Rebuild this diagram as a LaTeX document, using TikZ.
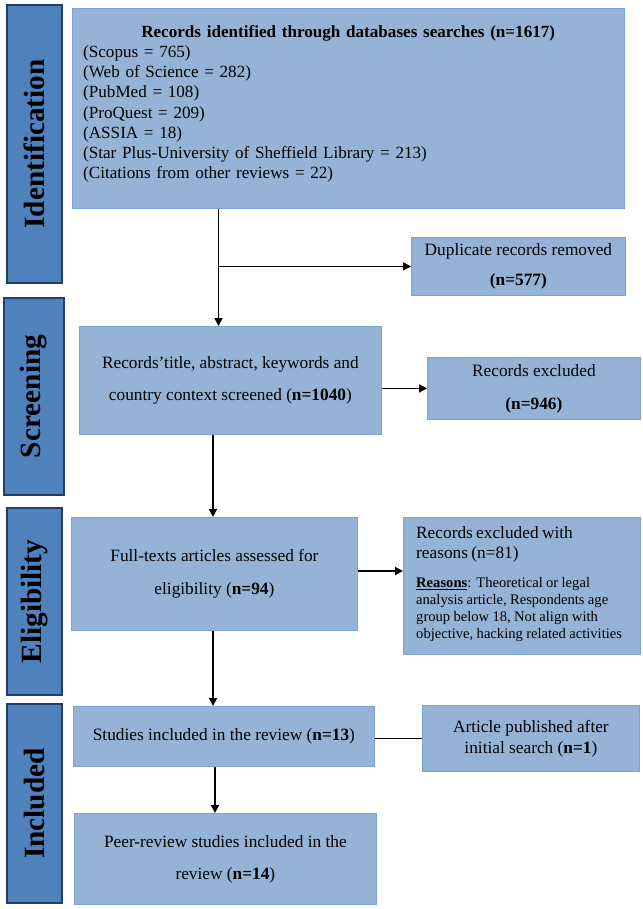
\documentclass[tikz,border=0pt]{standalone}
\usepackage{fontspec}
\setmainfont{Liberation Serif}
\usetikzlibrary{arrows.meta,calc}
\definecolor{boxfill}{HTML}{95B3D7}
\definecolor{boxline}{HTML}{7EA3D0}
\definecolor{sidefill}{HTML}{4F81BD}
\definecolor{sideline}{HTML}{203F66}
\begin{document}
\begin{tikzpicture}[x=1pt,y=-1pt,
  box/.style={draw=boxline, fill=boxfill, line width=0.8pt, anchor=north west, inner sep=0pt, align=center},
  side/.style={draw=sideline, fill=sidefill, line width=2.4pt, rotate=90, inner sep=0pt,
     font=\fontsize{29.3}{30}\selectfont\bfseries},
  txt/.style={inner sep=0pt, align=left, anchor=north west},
  arrow/.style={line width=1.8pt, -{Triangle[length=8pt,width=8pt]}},
  link/.style={line width=1.8pt}]
\useasboundingbox (0,0) rectangle (642,909);

% phase labels
\node[side, minimum width=278pt, minimum height=55pt] (sid) at (34.5,144) {Identification};
\node[side, minimum width=197pt, minimum height=60pt] (sscr) at (34,396.5) {Screening};
\node[side, minimum width=187pt, minimum height=55pt] (selig) at (34.5,601.5) {Eligibility};
\node[side, minimum width=199pt, minimum height=55pt] (sincl) at (34.5,803.5) {Included};

% boxes
\node[box, minimum width=552pt, minimum height=200pt] (box1) at (72,8) {};
\node[txt, text width=530pt, font=\fontsize{17.1}{20.2}\selectfont] (box1t) at (83,25) {%
\makebox[\linewidth]{\textbf{Records identified through databases searches (n=1617)}}\\
(Scopus = 765)\\
(Web of Science = 282)\\
(PubMed = 108)\\
(ProQuest = 209)\\
(ASSIA = 18)\\
(Star Plus-University of Sheffield Library = 213)\\
(Citations from other reviews = 22)};

\node[box, minimum width=214pt, minimum height=58pt, font=\fontsize{17.3}{30}\selectfont] (dup) at (411,237)
  {Duplicate records removed\\\textbf{(n=577)}};

\node[box, minimum width=302pt, minimum height=108pt, font=\fontsize{17.3}{32}\selectfont] (scr) at (79,326)
  {Records’title, abstract, keywords and\\country context screened (\textbf{n=1040})};

\node[box, minimum width=213pt, minimum height=62pt, font=\fontsize{17.3}{33}\selectfont] (excl) at (427,357)
  {Records excluded\\\textbf{(n=946)}};

\node[box, minimum width=286pt, minimum height=113pt, font=\fontsize{17.3}{33}\selectfont] (full) at (71,517)
  {Full-texts articles assessed for\\eligibility (\textbf{n=94})};

\node[box, minimum width=237pt, minimum height=137pt] (reas) at (403,517) {};
\node[txt, text width=230pt] (reast) at (416,526) {%
\fontsize{17.3}{20}\selectfont Records excluded with\\reasons (n=81)\par\vspace{13pt}
\fontsize{14.6}{16.7}\selectfont\underline{\textbf{Reasons}}: Theoretical or legal\\
analysis article, Respondents age\\
group below 18, Not align with\\
objective, hacking related activities\par};

\node[box, minimum width=301pt, minimum height=60pt, font=\fontsize{17.3}{20}\selectfont] (stud) at (73,706)
  {Studies included in the review (\textbf{n=13})};

\node[box, minimum width=217pt, minimum height=66pt, font=\fontsize{17.3}{21}\selectfont] (art) at (422,705)
  {Article published after\\initial search (\textbf{n=1})};

\node[box, minimum width=302pt, minimum height=91pt, font=\fontsize{17.3}{32}\selectfont] (peer) at (74,813)
  {Peer-review studies included in the\\review (\textbf{n=14})};

% connectors
\coordinate (v1) at (218.5,0);
\coordinate (v2) at (213,0);
\coordinate (v3) at (215,0);
\draw[arrow] (box1.south -| v1) -- (scr.north -| v1);
\draw[arrow] (dup.west -| v1) -- (dup.west);
\draw[arrow] (scr.east |- excl.west) -- (excl.west);
\draw[arrow] (scr.south -| v2) -- (full.north -| v2);
\draw[arrow] (full.east |- 0,571) -- (reas.west |- 0,571);
\draw[arrow] (full.south -| v2) -- (stud.north -| v2);
\draw[link] (stud.east |- art.west) -- (art.west);
\draw[arrow] (stud.south -| v3) -- (peer.north -| v3);
\end{tikzpicture}
\end{document}
